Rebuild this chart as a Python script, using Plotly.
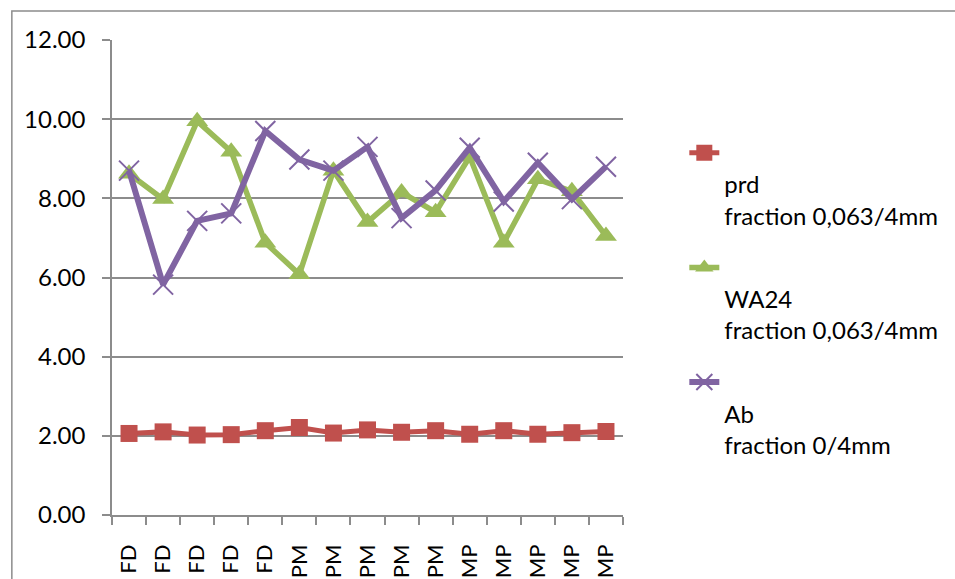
import plotly.graph_objects as go

# Sample groups along the x axis
categories = ["FD"] * 5 + ["PM"] * 5 + ["MP"] * 5

# Measured values per series
prd = [2.06, 2.10, 2.02, 2.03, 2.13, 2.21, 2.07, 2.15, 2.09, 2.13, 2.04, 2.13, 2.04, 2.08, 2.11]
wa24 = [8.62, 7.98, 9.95, 9.18, 6.88, 6.08, 8.70, 7.40, 8.15, 7.65, 9.05, 6.88, 8.48, 8.18, 7.05]
ab = [8.70, 5.82, 7.43, 7.62, 9.70, 8.98, 8.70, 9.30, 7.50, 8.20, 9.28, 7.92, 8.90, 7.98, 8.80]

series_names = [
    "<br>prd<br>fraction 0,063/4mm",
    "<br>WA24<br>fraction 0,063/4mm",
    "<br>Ab<br>fraction 0/4mm",
]

y_ticks = [0, 2, 4, 6, 8, 10, 12]

RED = "#C0504D"
GREEN = "#9BBB59"
PURPLE = "#8064A2"
GRID = "#8C8C8C"
FONT = "Lato"
FS = 24

x = list(range(len(categories)))

fig = go.Figure()
fig.add_trace(go.Scatter(
    x=x, y=prd, name=series_names[0], mode="lines+markers", legendgroup="a",
    line=dict(color=RED, width=5),
    marker=dict(symbol="square", size=17, color=RED),
))
fig.add_trace(go.Scatter(
    x=x, y=wa24, name=series_names[1], mode="lines+markers", legendgroup="b",
    line=dict(color=GREEN, width=5.5),
    marker=dict(symbol="triangle-up", size=19, color=GREEN),
))
fig.add_trace(go.Scatter(
    x=x, y=ab, name=series_names[2], mode="lines+markers", legendgroup="c",
    line=dict(color=PURPLE, width=6),
    marker=dict(symbol="x-thin", size=20, color=PURPLE,
                line=dict(color=PURPLE, width=2)),
))

# Outer chart frame (right and bottom edges fall outside the page)
fig.add_shape(type="rect", xref="paper", yref="paper",
              x0=-0.196, x1=1.8, y0=-0.3, y1=1.061,
              line=dict(color="#8C8C8C", width=1.5), fillcolor="rgba(0,0,0,0)",
              layer="below")

fig.update_layout(
    width=955, height=579,
    margin=dict(l=112, r=329, t=40, b=64),
    paper_bgcolor="white", plot_bgcolor="white",
    font=dict(family=FONT, size=FS, color="#000000"),
    showlegend=True,
    legend=dict(
        x=1.12, xanchor="left", y=0.809, yanchor="top",
        valign="top", tracegroupgap=18,
        font=dict(family=FONT, size=FS, color="#000000"),
        bgcolor="rgba(0,0,0,0)",
    ),
    xaxis=dict(
        range=[-0.5, len(categories) - 0.5], automargin=False,
        tickmode="array", tickvals=x, ticktext=categories,
        tickangle=-90, ticks="", showgrid=False, zeroline=False,
        showline=True, linecolor=GRID, linewidth=1.5,
        ticklabelstandoff=19,
        tickfont=dict(family=FONT, size=22, color="#000000"),
        minor=dict(
            tickmode="array",
            tickvals=[i - 0.5 for i in range(len(categories) + 1)],
            ticks="outside", ticklen=8, tickwidth=1.5, tickcolor=GRID,
            showgrid=False,
        ),
    ),
    yaxis=dict(
        range=[0, 12], automargin=False, tickmode="array", tickvals=y_ticks,
        tickformat=".2f", ticks="outside", ticklen=8, tickwidth=1.5,
        tickcolor=GRID, showgrid=True, gridcolor=GRID, gridwidth=1.5,
        zeroline=False, showline=True, linecolor=GRID, linewidth=1.5,
        ticklabelstandoff=12,
        tickfont=dict(family=FONT, size=FS, color="#000000"),
    ),
)

fig.write_html("out.html")
